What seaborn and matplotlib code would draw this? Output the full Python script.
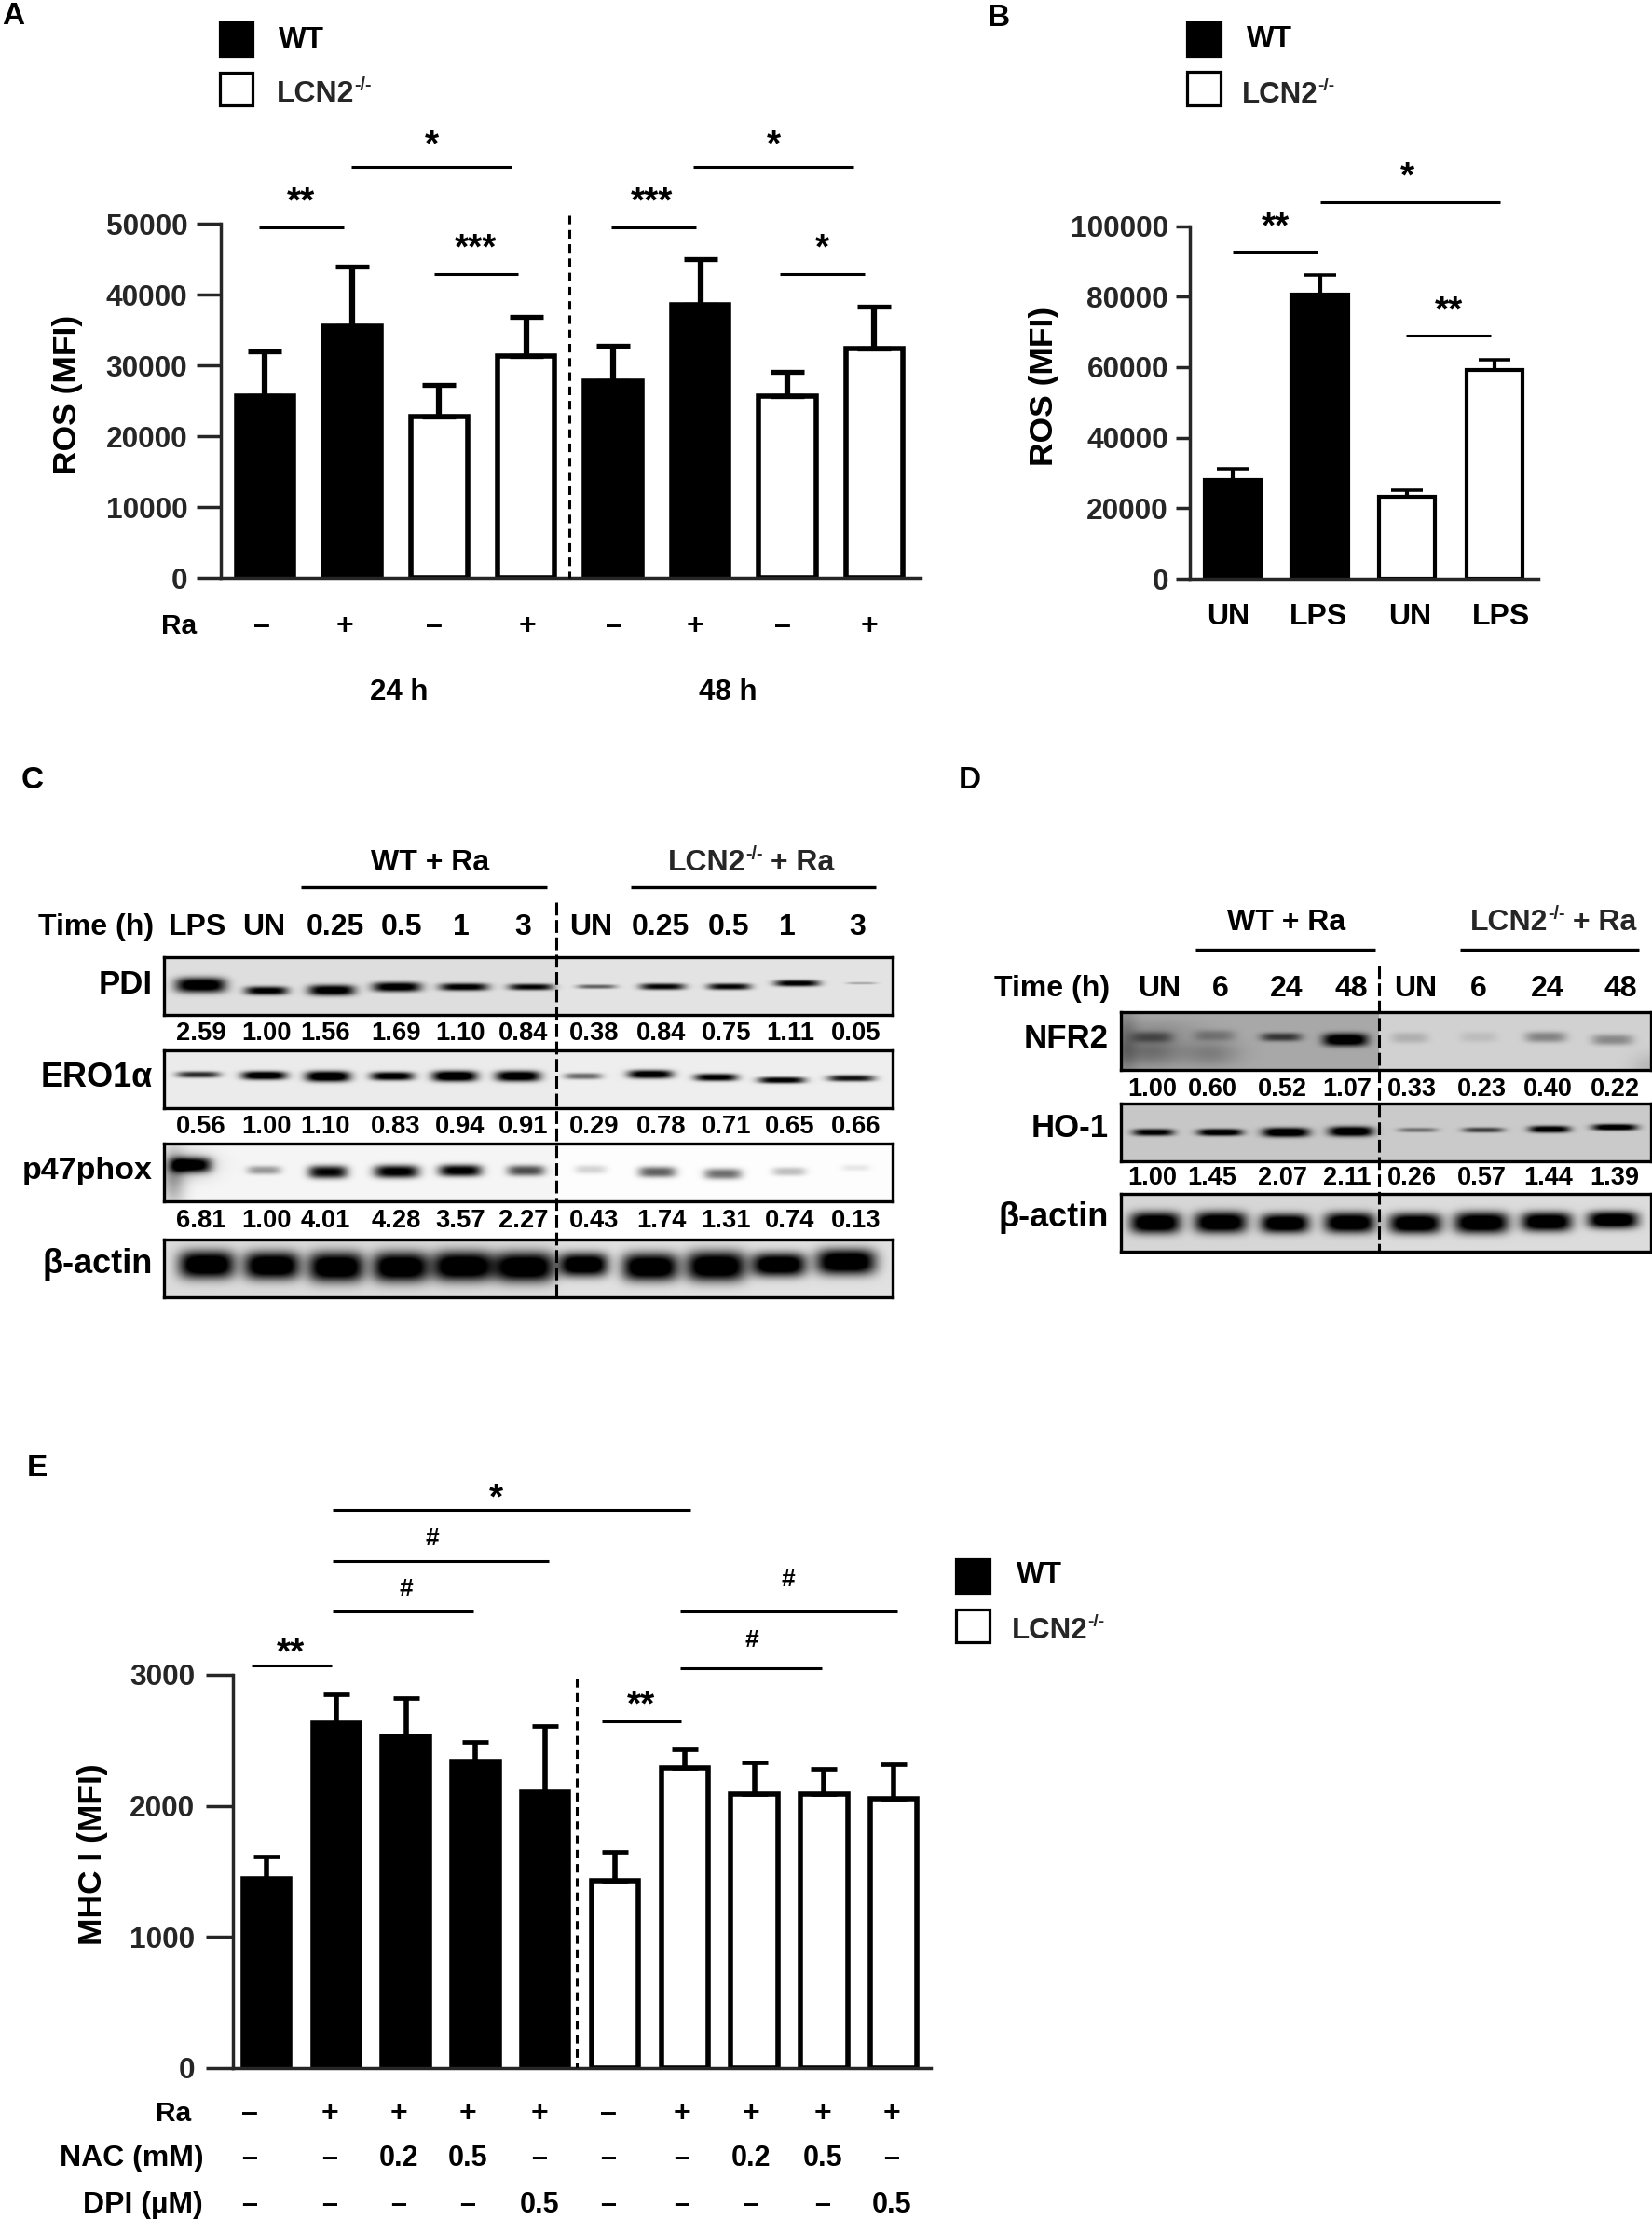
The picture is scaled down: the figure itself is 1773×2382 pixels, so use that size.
import numpy as np
import pandas as pd
import seaborn as sns
import matplotlib
matplotlib.use('Agg')
import matplotlib.pyplot as plt
from matplotlib.patches import Rectangle

# panel A
a_labels = ['WT 24 -', 'WT 24 +', 'KO 24 -', 'KO 24 +', 'WT 48 -', 'WT 48 +', 'KO 48 -', 'KO 48 +']
a_groups = ['WT', 'WT', 'KO', 'KO', 'WT', 'WT', 'KO', 'KO']
a_values = [25700, 35500, 22700, 31300, 27800, 38600, 25600, 32400]
a_tops = [32000, 44000, 27200, 36800, 32700, 45000, 29100, 38300]
a_ticks = [0, 10000, 20000, 30000, 40000, 50000]
a_signs = ['–', '+', '–', '+', '–', '+', '–', '+']

# panel B
b_labels = ['WT UN', 'WT LPS', 'KO UN', 'KO LPS']
b_groups = ['WT', 'WT', 'KO', 'KO']
b_values = [28000, 80700, 23300, 59300]
b_tops = [31200, 86200, 25000, 62200]
b_ticks = [0, 20000, 40000, 60000, 80000, 100000]
b_names = ['UN', 'LPS', 'UN', 'LPS']

# panel E
e_labels = ['WT%d' % i for i in range(5)] + ['KO%d' % i for i in range(5)]
e_groups = ['WT'] * 5 + ['KO'] * 5
e_values = [1440, 2630, 2530, 2340, 2100, 1430, 2290, 2090, 2090, 2050]
e_tops = [1610, 2850, 2820, 2490, 2610, 1650, 2430, 2330, 2280, 2320]
e_ticks = [0, 1000, 2000, 3000]
e_ra = ['–', '+', '+', '+', '+', '–', '+', '+', '+', '+']
e_nac = ['–', '–', '0.2', '0.5', '–', '–', '–', '0.2', '0.5', '–']
e_dpi = ['–', '–', '–', '–', '0.5', '–', '–', '–', '–', '0.5']

# panel C densitometry
c_time = ['LPS', 'UN', '0.25', '0.5', '1', '3', 'UN', '0.25', '0.5', '1', '3']
c_pdi = ['2.59', '1.00', '1.56', '1.69', '1.10', '0.84', '0.38', '0.84', '0.75', '1.11', '0.05']
c_ero = ['0.56', '1.00', '1.10', '0.83', '0.94', '0.91', '0.29', '0.78', '0.71', '0.65', '0.66']
c_p47 = ['6.81', '1.00', '4.01', '4.28', '3.57', '2.27', '0.43', '1.74', '1.31', '0.74', '0.13']
# band darkness, read from the blots
c_pdi_dark = [.95, .85, .9, .9, .85, .8, .45, .8, .8, .85, .2]
c_ero_dark = [.65, .95, 1, .9, 1, .95, .45, .9, .85, .85, .75]
c_p47_dark = [.75, .3, .8, .85, .85, .55, .13, .5, .45, .2, .07]
c_act_dark = [1.0] * 11

# panel D densitometry
d_time = ['UN', '6', '24', '48', 'UN', '6', '24', '48']
d_nfr = ['1.00', '0.60', '0.52', '1.07', '0.33', '0.23', '0.40', '0.22']
d_ho = ['1.00', '1.45', '2.07', '2.11', '0.26', '0.57', '1.44', '1.39']
d_nfr_dark = [.3, .22, .55, 1.0, .13, .08, .3, .28]
d_ho_dark = [.85, .95, 1, 1, .35, .55, .9, .95]
d_act_dark = [1.0] * 8

W, H = 1774, 2382
sns.set_theme(style='ticks')
plt.rcParams['font.family'] = ['Liberation Sans', 'DejaVu Sans']
plt.rcParams['font.weight'] = 'bold'
plt.rcParams['axes.labelweight'] = 'bold'

fig = plt.figure(figsize=(W / 100, H / 100), dpi=100, facecolor='white')
palette = {'WT': 'black', 'KO': 'white'}


def px_axes(x0, x1, ytop, ybot):
    return fig.add_axes([x0 / W, 1 - ybot / H, (x1 - x0) / W, (ybot - ytop) / H])


def bar_panel(box, labels, groups, values, tops, ticks, first, step, outer, lw, err_lw, cap, tick_len, pad):
    x0, x1, ytop, ybot = box
    ax = px_axes(x0, x1, ytop, ybot)
    df = pd.DataFrame({'bar': labels, 'group': groups, 'value': values})
    sns.barplot(data=df, x='bar', y='value', hue='group', palette=palette, dodge=False,
                width=(outer - lw / 0.72) / step, edgecolor='black', linewidth=lw, legend=False, ax=ax)
    pos = np.arange(len(labels))
    up = np.array(tops) - np.array(values)
    ax.errorbar(pos, values, yerr=[np.zeros(len(up)), up], fmt='none', ecolor='black',
                elinewidth=err_lw, capsize=cap, capthick=err_lw * 0.85, zorder=1)
    ax.set_xlim((x0 - first) / step, (x1 - first) / step)
    ax.set_ylim(ticks[0], ticks[-1])
    ax.set_yticks(ticks)
    ax.set_xticks([])
    ax.set_xlabel('')
    ax.set_ylabel('')
    ax.tick_params(axis='y', length=tick_len, width=2.5, pad=pad, labelsize=22.8)
    for s in ['top', 'right']:
        ax.spines[s].set_visible(False)
    for s in ['left', 'bottom']:
        ax.spines[s].set_linewidth(2.5)
    return ax


ax_a = bar_panel((237, 988, 240, 620), a_labels, a_groups, a_values, a_tops, a_ticks,
                 284.5, 93.4, 67, 4, 4.5, 13, 18.7, 7)
ax_b = bar_panel((1277, 1651, 242.5, 621), b_labels, b_groups, b_values, b_tops, b_ticks,
                 1322.7, 93.8, 64.5, 3, 3, 12, 10.6, 6)
ax_e = bar_panel((250, 999, 1797, 2218.5), e_labels, e_groups, e_values, e_tops, e_ticks,
                 286, 74.8, 56, 4, 4, 10, 21, 8.5)


def blot(box, bg, split, cx, hw, cy, th, dark, extra=()):
    x0, x1, y0, y1 = box
    xx, yy = np.meshgrid(np.arange(x0, x1) + .5, np.arange(y0, y1) + .5)
    base = np.where(xx < split, bg[0], bg[1])
    d = np.zeros_like(xx, dtype=float)
    for c, h, y, t, k in zip(cx, hw, cy, th, dark):
        d += 1.25 * k * np.exp(-np.abs((xx - c) / h) ** 4) * np.exp(-np.abs((yy - y) / (t * 1.15)) ** 2.6)
    for c, h, y, t, k in extra:
        d += k * np.exp(-((xx - c) / h) ** 2) * np.exp(-((yy - y) / t) ** 2)
    img = base * (1 - np.clip(d, 0, 1))
    ax = px_axes(x0, x1, y0, y1)
    sns.heatmap(img, ax=ax, cmap='gray', vmin=0, vmax=1, cbar=False,
                xticklabels=False, yticklabels=False, rasterized=True)
    for s in ax.spines.values():
        s.set_visible(True)
        s.set_linewidth(2.4)
        s.set_color('black')


c_x0, c_x1 = 176, 958
blot((c_x0, c_x1, 1027, 1089), (.87, .89), 597,
     [215.5, 286, 356, 426, 498, 570, 640.5, 711, 782.6, 855.5, 924.7],
     [27, 23, 25, 26, 26, 24, 21, 24, 23, 24, 16],
     [1057, 1063, 1062.5, 1059, 1059, 1059, 1058.6, 1058.6, 1058.6, 1055, 1055],
     [7, 4, 5, 4.5, 3.5, 3, 2, 3, 3, 3, 1.2], c_pdi_dark)
blot((c_x0, c_x1, 1127, 1189), (.92, .93), 597,
     [213, 283.5, 352, 421, 488, 556, 626, 698, 768.5, 839, 913.6],
     [23, 24, 24, 23, 24, 24, 20, 24, 23, 25, 25],
     [1153, 1154, 1155, 1154.7, 1154.7, 1154.7, 1154.7, 1152.7, 1156, 1159, 1157],
     [3, 4, 5, 4, 5, 5, 3, 4, 3.5, 3, 3], c_ero_dark)
blot((c_x0, c_x1, 1227, 1289), (.96, .99), 597,
     [205, 283.5, 352, 425.6, 494, 564.6, 634, 705.4, 776, 847, 918.6],
     [22, 18, 21, 24, 23, 20, 17, 20, 20, 18, 15],
     [1250, 1255.5, 1257.5, 1257, 1256, 1256, 1254.7, 1257.5, 1259.5, 1257, 1253],
     [7, 4, 6, 6, 5.5, 5, 4, 5, 5, 4, 3], c_p47_dark,
     extra=[(186, 13, 1262, 30, .35), (205, 25, 1250, 14, .25)])
blot((c_x0, c_x1, 1330, 1392), (.86, .88), 597,
     [222, 292, 361, 430, 497, 563, 626.5, 698, 768.5, 836, 908],
     [30, 30, 30, 30, 33, 32, 26, 30, 32, 29, 32],
     [1357, 1358, 1359.5, 1359.5, 1358.7, 1359.5, 1357, 1359.5, 1358.7, 1357, 1354],
     [13, 13, 14, 14, 14, 14, 11, 13, 14, 11, 12], c_act_dark)

d_x0, d_x1 = 1203, 1772
blot((d_x0, d_x1, 1086, 1148), (.66, .82), 1480,
     [1237, 1303.5, 1375, 1444, 1513, 1587, 1659, 1730.5],
     [22, 22, 22, 24, 20, 20, 22, 22],
     [1112.7, 1111, 1112.7, 1115.6, 1113.5, 1112.7, 1112.7, 1115.6],
     [5, 5, 4, 6, 5, 5, 5, 5], d_nfr_dark,
     extra=[(1235, 35, 1128, 16, .35), (1300, 30, 1130, 14, .25), (1240, 50, 1105, 12, .12),
            (1208, 12, 1120, 40, .25), (1770, 20, 1145, 15, .12)])
blot((d_x0, d_x1, 1184, 1246), (.78, .79), 1480,
     [1238, 1309.5, 1380, 1450, 1521.7, 1592, 1663, 1733],
     [22, 24, 25, 24, 21, 22, 22, 24],
     [1215, 1215, 1215, 1214, 1212.4, 1212.4, 1211.6, 1209.5],
     [3.3, 3.3, 4.4, 4.7, 2.2, 2.5, 3.3, 3], d_ho_dark)
blot((d_x0, d_x1, 1281, 1343), (.84, .86), 1480,
     [1240, 1310, 1379, 1448.7, 1519, 1590, 1660, 1731],
     [27, 28, 26, 27, 28, 29, 27, 27],
     [1312, 1311.6, 1312.7, 1312, 1312.7, 1312, 1311, 1309],
     [10, 10, 9, 9.5, 9.5, 10, 9, 8], d_act_dark)

# everything else is laid over the figure in pixel units
ov = fig.add_axes([0, 0, 1, 1], zorder=10)
ov.set_xlim(0, W)
ov.set_ylim(H, 0)
ov.axis('off')
ov.patch.set_alpha(0)


def txt(x, y, s, fs=23, ha='center', rot=0):
    return ov.text(x, y, s, fontsize=fs, ha=ha, va='center', fontweight='bold', rotation=rot, color='black')


def row(xs, y, items, fs=23):
    for x, s in zip(xs, items):
        txt(x, y, s, fs)


def hline(x0, x1, y, lw=2.2):
    ov.plot([x0, x1], [y, y], color='black', lw=lw, solid_capstyle='butt')


def dash(x, y0, y1, ls=(0, (3, 2))):
    ov.plot([x, x], [y0, y1], color='black', lw=2.2, ls=ls)


def sig(x0, x1, y, tx, ty, s, fs=28):
    hline(x0, x1, y)
    txt(tx, ty, s, fs)


def ko_text(x, y, fs, tail=''):
    # LCN2 with the raised -/- and whatever follows it
    r = fig.canvas.get_renderer()
    t = ov.text(x, y, 'LCN2', fontsize=fs, ha='left', va='center', fontweight='bold')
    end = t.get_window_extent(r).x1
    s = ov.text(end, y - fs * 0.42, '-/-', fontsize=fs * 0.62, ha='left', va='center', fontweight='bold')
    if tail:
        end2 = s.get_window_extent(r).x1
        ov.text(end2, y, tail, fontsize=fs, ha='left', va='center', fontweight='bold')


def legend_box(x0, x1, y0, y1, filled):
    ov.add_patch(Rectangle((x0 + 1.5, y0 + 1.5), x1 - x0 - 3, y1 - y0 - 3, facecolor='black' if filled else 'white',
                           edgecolor='black', lw=2.3))


# panel letters
txt(14, 18, 'A', 24)
txt(1072, 20, 'B', 24)
txt(35, 837, 'C', 24)
txt(1041, 837, 'D', 24)
txt(40, 1576, 'E', 24)

# A
legend_box(235, 273, 22, 61, True)
legend_box(235, 273, 76, 114, False)
txt(299, 43, 'WT', 22.7, ha='left')
ko_text(297, 101, 23)
txt(72.5, 423, 'ROS (MFI)', 25.5, rot=90)
sig(278.5, 369, 244, 323, 217, '**')
sig(377, 549, 179, 463, 156, '*')
sig(466, 556, 293.5, 511, 267, '***')
sig(656.5, 747, 244, 700, 217, '***')
sig(744, 916, 179, 830, 156, '*')
sig(837.5, 928, 293.5, 882, 267, '*')
dash(611.5, 231, 620)
txt(192, 672, 'Ra', 21.5)
row([280.5, 370, 465.5, 565.6, 659, 746, 839.5, 933], 672, a_signs, 23)
txt(428, 743, '24 h', 22.5)
txt(781, 743, '48 h', 22.5)

# B
legend_box(1273, 1311.5, 22, 61, True)
legend_box(1273, 1311.5, 75, 114, False)
txt(1338, 42, 'WT', 22.7, ha='left')
ko_text(1333, 102, 22.5)
txt(1121, 414, 'ROS (MFI)', 25.5, rot=90)
sig(1417.5, 1610, 216.5, 1510.6, 190, '*')
sig(1323, 1414, 269.6, 1368.6, 244, '**')
sig(1509, 1600, 360, 1555, 334, '**')
row([1318, 1415.5, 1513.5, 1611], 662.5, b_names, 23)

# C
txt(462, 926, 'WT + Ra', 23)
hline(323, 587, 952, 2.4)
ko_text(716.5, 926, 23, ' + Ra')
hline(677, 940, 952, 2.4)
txt(165, 995, 'Time (h)', 23, ha='right')
row([212.5, 283.5, 359.5, 431, 495, 561.5, 634, 709, 782, 845, 920], 995, c_time)
c_num_x = [215.5, 286, 349, 425, 494, 562, 638, 710, 779.5, 848, 918.5]
row(c_num_x, 1109, c_pdi, 19.7)
row(c_num_x, 1209, c_ero, 19.7)
row(c_num_x, 1310, c_p47, 19.7)
txt(164, 1057, 'PDI', 25, ha='right')
txt(164, 1157, 'ERO1α', 26, ha='right')
txt(164, 1257, 'p47phox', 24.5, ha='right')
txt(164, 1357, 'β-actin', 26, ha='right')
dash(597, 968, 1392, (0, (4.5, 1.6)))

# D
txt(1381, 990, 'WT + Ra', 23)
hline(1283, 1476, 1018.5, 2.4)
ko_text(1577.5, 990, 23, ' + Ra')
hline(1567, 1759, 1018.5, 2.4)
txt(1191.5, 1061, 'Time (h)', 23, ha='right')
row([1244, 1310, 1380.5, 1450, 1519, 1587, 1661, 1739], 1061, d_time)
d_num_x = [1237, 1301, 1376.6, 1445.7, 1515, 1590, 1661.4, 1733]
row(d_num_x, 1169.5, d_nfr, 19.5)
row(d_num_x, 1264, d_ho, 19.5)
txt(1190, 1114.5, 'NFR2', 25, ha='right')
txt(1190, 1211, 'HO-1', 25, ha='right')
txt(1190, 1307, 'β-actin', 26, ha='right')
dash(1480, 1036, 1343, (0, (4.5, 1.6)))

# E
legend_box(1025, 1064, 1671, 1710, True)
legend_box(1025, 1064, 1725, 1763, False)
txt(1090.7, 1690, 'WT', 22.7, ha='left')
ko_text(1086, 1750, 22.5)
txt(100, 1990, 'MHC I (MFI)', 25.5, rot=90)
sig(357, 741, 1620, 532.5, 1608, '*')
sig(357, 589.5, 1675, 464, 1651, '#', 19)
sig(357, 508, 1729, 436, 1705, '#', 19)
sig(270, 356, 1787, 312, 1774, '**')
sig(646.5, 731.5, 1847, 688, 1830, '**')
sig(730, 963, 1729, 845.5, 1695, '#', 19)
sig(730, 882, 1790, 807, 1760, '#', 19)
dash(619.4, 1801, 2218)
e_col_x = [268, 354, 428, 502, 579, 653, 732, 806, 883, 957]
txt(205.6, 2268, 'Ra', 21.5, ha='right')
txt(219, 2316, 'NAC (mM)', 23, ha='right')
txt(217.5, 2366, 'DPI (µM)', 23, ha='right')
row(e_col_x, 2268, e_ra, 23)
row(e_col_x, 2316, e_nac, 22)
row(e_col_x, 2366, e_dpi, 22)

plt.savefig('out.png', dpi=100)
